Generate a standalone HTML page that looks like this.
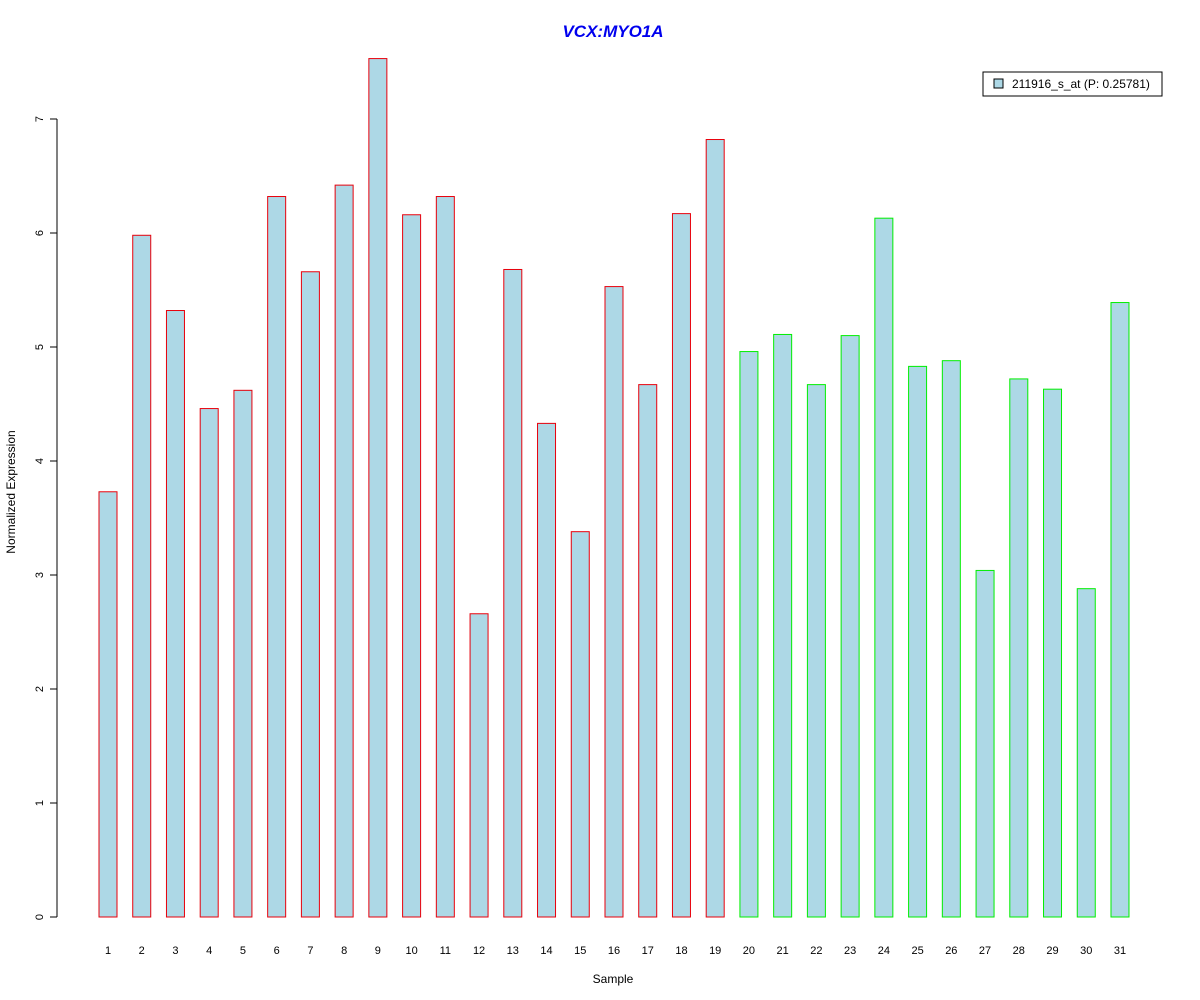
<!DOCTYPE html>
<html><head><meta charset="utf-8"><style>body{margin:0;background:#fff}svg{display:block;font-family:"Liberation Sans",sans-serif}</style></head>
<body>
<svg id="c" width="1200" height="1000" xmlns="http://www.w3.org/2000/svg">
<text x="613" y="37" text-anchor="middle" font-size="17" font-weight="bold" font-style="italic" fill="#0000ee">VCX:MYO1A</text>
<text x="613" y="983" text-anchor="middle" font-size="12">Sample</text>
<text transform="translate(15,492) rotate(-90)" text-anchor="middle" font-size="12">Normalized Expression</text>
<g>
<rect x="983" y="72" width="179" height="24" fill="#fff" stroke="#000"/>
<rect x="994" y="79" width="9" height="9" fill="#add8e6" stroke="#000"/>
<text x="1012" y="88" font-size="12">211916_s_at (P: 0.25781)</text>
</g>
<g id="bars"></g><g id="axes"></g>
</svg>
<script>
const categories=["1","2","3","4","5","6","7","8","9","10","11","12","13","14","15","16","17","18","19","20","21","22","23","24","25","26","27","28","29","30","31"];
const values=[3.73,5.98,5.32,4.46,4.62,6.32,5.66,6.42,7.53,6.16,6.32,2.66,5.68,4.33,3.38,5.53,4.67,6.17,6.82,4.96,5.11,4.67,5.10,6.13,4.83,4.88,3.04,4.72,4.63,2.88,5.39];
const groups=[1,1,1,1,1,1,1,1,1,1,1,1,1,1,1,1,1,1,1,2,2,2,2,2,2,2,2,2,2,2,2];
const yTicks=[0,1,2,3,4,5,6,7];
const NS="http://www.w3.org/2000/svg";
const y=v=>917-v*114;
const x=i=>108+i*33.733;
const bars=document.getElementById('bars'),axes=document.getElementById('axes');
function mk(t,a,p){const e=document.createElementNS(NS,t);for(const k in a)e.setAttribute(k,a[k]);p.appendChild(e);return e;}
values.forEach((v,i)=>{
const r=mk('rect',{x:x(i)-9,y:y(v),width:18,height:y(0)-y(v),fill:'#add8e6',stroke:groups[i]==1?'#e8000b':'#00ee00'},bars);


const t=mk('text',{x:x(i),y:954,'text-anchor':'middle','font-size':11},axes);
t.textContent=categories[i];


});
const ax=mk('line',{x1:57,x2:57,y1:y(0),y2:y(7),stroke:'#000'},axes);


yTicks.forEach(v=>{
mk('line',{x1:50,x2:57,y1:y(v),y2:y(v),stroke:'#000'},axes);
const t=mk('text',{transform:`translate(43,${y(v)}) rotate(-90)`,'text-anchor':'middle','font-size':11},axes);
t.textContent=v;


});
</script>
</body></html>
